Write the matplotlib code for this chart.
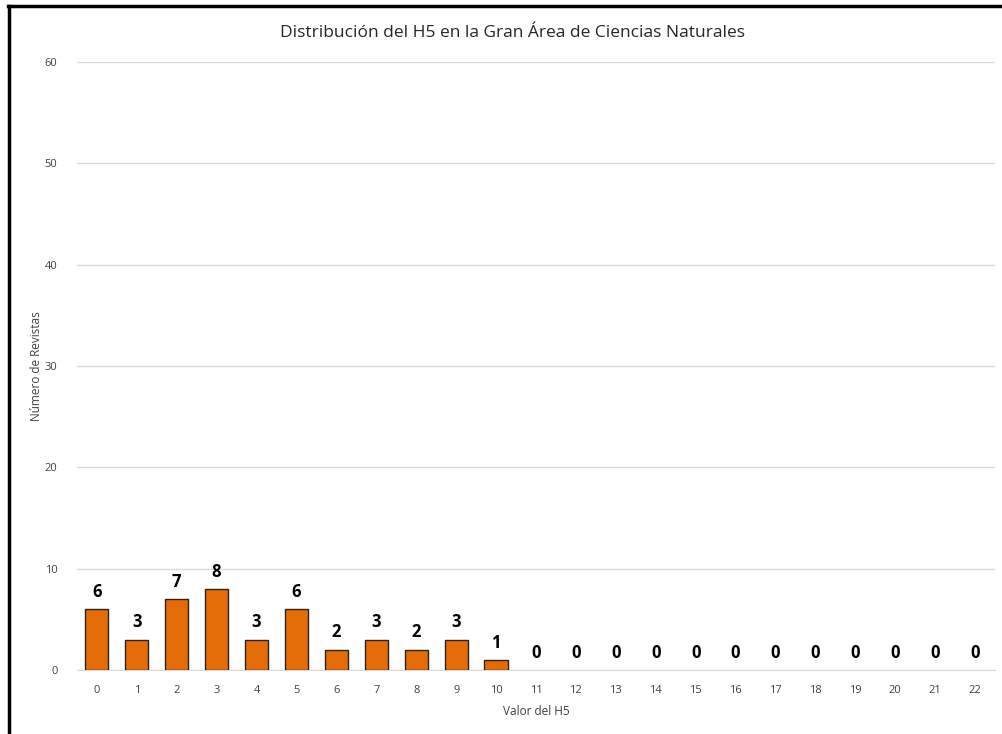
import matplotlib.pyplot as plt
from matplotlib.lines import Line2D

valores_h5 = [str(i) for i in range(23)]
num_revistas = [6, 3, 7, 8, 3, 6, 2, 3, 2, 3, 1, 0, 0, 0, 0, 0, 0, 0, 0, 0, 0, 0, 0]

titulo = 'Distribución del H5 en la Gran Área de Ciencias Naturales'
etiqueta_x = 'Valor del H5'
etiqueta_y = 'Número de Revistas'

plt.rcParams['font.family'] = ['Open Sans', 'DejaVu Sans']

fig = plt.figure(figsize=(10.02, 7.34), dpi=100)
ax = fig.add_axes([0.0768, 0.0872, 0.9162, 0.8283])

x = range(len(valores_h5))
# las barras con valor 0 no dibujan borde
bordes = [1.0 if v > 0 else 0 for v in num_revistas]
ax.bar(x, num_revistas, width=0.58, color='#e36c09',
       edgecolor='#2b2118', linewidth=bordes, zorder=3)

for xi, v in zip(x, num_revistas):
    ax.annotate(str(v), (xi, v), xytext=(0, 6), textcoords='offset points',
                ha='center', va='bottom', fontsize=12, fontweight='bold',
                color='black')

ax.set_ylim(0, 60)
ax.set_xlim(-0.5, len(valores_h5) - 0.5)
ax.set_yticks(range(0, 61, 10))
ax.set_xticks(list(x))
ax.set_xticklabels(valores_h5)
ax.yaxis.grid(True, color='#d9d9d9', linewidth=1, zorder=0)
ax.tick_params(axis='both', length=0, labelsize=8, colors='#404040', pad=11)
ax.tick_params(axis='y', pad=14)
for s in ['top', 'right', 'left']:
    ax.spines[s].set_visible(False)
ax.spines['bottom'].set_color('#d9d9d9')
ax.spines['bottom'].set_zorder(0)

ax.set_xlabel(etiqueta_x, fontsize=8.5, color='#404040', labelpad=6)
ax.set_ylabel(etiqueta_y, fontsize=8.5, color='#404040', labelpad=1)
fig.text(0.511, 0.955, titulo, ha='center', va='center', fontsize=12.5,
         color='#262626')

# marco del gráfico (solo borde izquierdo y superior visibles)
fig.add_artist(Line2D([0.009, 0.009], [0, 0.992], transform=fig.transFigure,
                      color='black', linewidth=2.5))
fig.add_artist(Line2D([0.008, 1.0], [0.992, 0.992], transform=fig.transFigure,
                      color='black', linewidth=2.5))

fig.savefig('out.png', dpi=100)
